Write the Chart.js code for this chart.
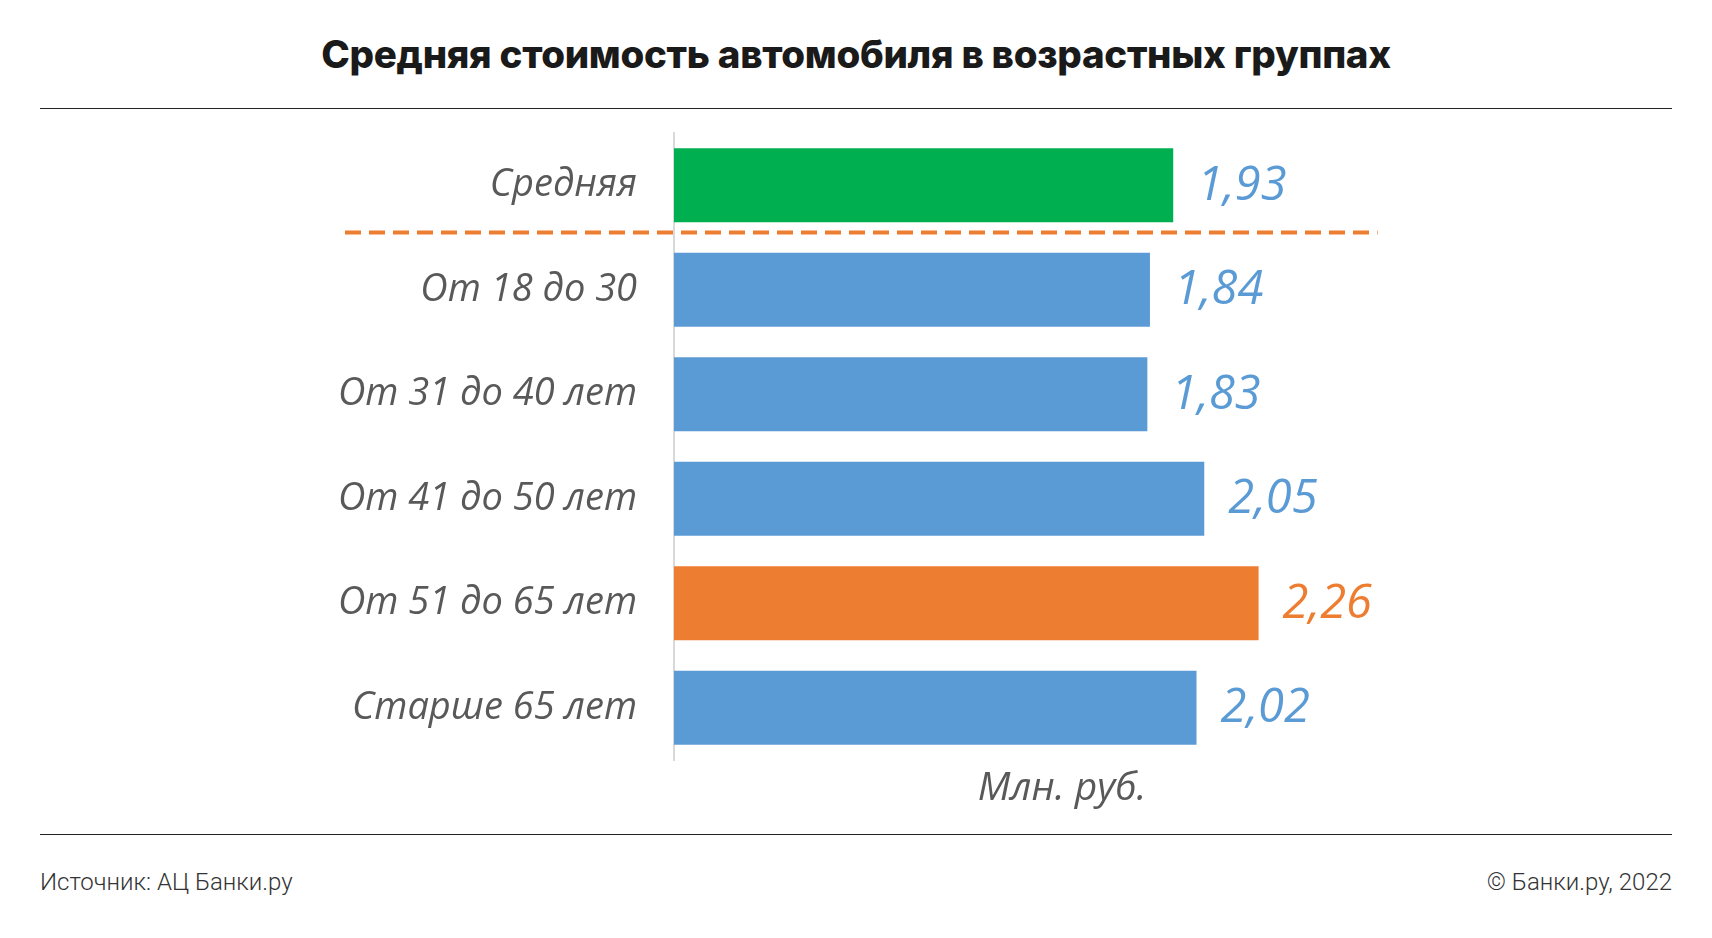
<!DOCTYPE html>
<html lang="ru">
<head>
<meta charset="utf-8">
<script src="https://cdn.jsdelivr.net/npm/chart.js@4/dist/chart.umd.min.js"></script>
<style>
    html, body { margin: 0; padding: 0; background: #fff; }
    body { width: 1712px; height: 938px; position: relative; overflow: hidden; }
    #title {
        position: absolute; left: 0; top: 31px; width: 1712px; text-align: center;
        font-family: Inter, sans-serif; font-weight: 800; font-size: 38.5px; color: #1a1a1a;
        letter-spacing: -0.3px;
    }
    .rule { position: absolute; left: 40px; width: 1632px; height: 0; border-top: 1.5px solid #222; }
    .foot {
        position: absolute; top: 868px; font-family: Roboto, sans-serif; font-weight: 300;
        font-size: 24px; color: #333;
    }
    #wrap { position: absolute; left: 0; top: 0; width: 1712px; height: 938px; }
</style>
</head>
<body>
<div id="title">Средняя стоимость автомобиля в возрастных группах</div>
<div class="rule" style="top:108px"></div>
<div class="rule" style="top:834px"></div>
<div class="foot" style="left:40px">Источник: АЦ Банки.ру</div>
<div class="foot" style="right:40px">© Банки.ру, 2022</div>
<div id="wrap"><canvas id="chart"></canvas></div>
<script>
// values, mln rub
const groups = ['Средняя', 'От 18 до 30', 'От 31 до 40 лет', 'От 41 до 50 лет', 'От 51 до 65 лет', 'Старше 65 лет'];
const prices = [1.93, 1.84, 1.83, 2.05, 2.26, 2.02];
const barColors = ['#00b050', '#5b9bd5', '#5b9bd5', '#5b9bd5', '#ed7d31', '#5b9bd5'];
const labelColors = ['#5b9bd5', '#5b9bd5', '#5b9bd5', '#5b9bd5', '#ed7d31', '#5b9bd5'];
const unitLabel = 'Млн. руб.';

// value labels at the end of each bar
const valueLabels = {
    id: 'valueLabels',
    afterDatasetsDraw(chart) {
        const ctx = chart.ctx;
        const meta = chart.getDatasetMeta(0);
        ctx.save();
        ctx.font = 'italic 47px "Open Sans", sans-serif';
        ctx.textBaseline = 'middle';
        ctx.textAlign = 'left';
        meta.data.forEach((bar, i) => {
            ctx.fillStyle = labelColors[i];
            ctx.fillText(prices[i].toFixed(2).replace('.', ','), bar.x + 24, bar.y + 1);
        });
        ctx.restore();
    }
};

// dashed separator under the average bar
const avgSeparator = {
    id: 'avgSeparator',
    afterDatasetsDraw(chart) {
        const ctx = chart.ctx;
        const y = chart.scales.y.getPixelForValue(0.5) - 5;
        ctx.save();
        ctx.strokeStyle = '#ed7d31';
        ctx.lineWidth = 4;
        ctx.setLineDash([16, 8]);
        ctx.beginPath();
        ctx.moveTo(345, y);
        ctx.lineTo(chart.scales.x.getPixelForValue(2.72), y);
        ctx.stroke();
        ctx.restore();
    }
};

new Chart(document.getElementById('chart'), {
    type: 'bar',
    data: {
        labels: groups,
        datasets: [{
            data: prices,
            backgroundColor: barColors,
            borderWidth: 0,
            categoryPercentage: 1,
            barPercentage: 0.71
        }]
    },
    options: {
        indexAxis: 'y',
        responsive: true,
        maintainAspectRatio: false,
        animation: false,
        layout: { padding: { left: 0, right: 262, top: 133, bottom: 104 } },
        plugins: {
            legend: { display: false },
            tooltip: { enabled: false }
        },
        scales: {
            x: {
                min: 0,
                max: 3,
                grid: { display: false, drawTicks: false },
                border: { display: false },
                ticks: { display: false },
                title: {
                    display: true,
                    text: unitLabel,
                    color: '#595959',
                    font: { family: '"Open Sans", sans-serif', size: 39, style: 'italic' },
                    padding: { top: 0, bottom: 22 }
                },
                afterFit(scale) { scale.height = 74; }
            },
            y: {
                grid: { display: false, drawTicks: false },
                border: { display: true, color: '#d9d9d9', width: 2 },
                ticks: {
                    color: '#595959',
                    padding: 37,
                    font: { family: '"Open Sans", sans-serif', size: 38, style: 'italic' }
                },
                afterFit(scale) { scale.width = 674; }
            }
        }
    },
    plugins: [valueLabels, avgSeparator]
});
</script>
</body>
</html>
